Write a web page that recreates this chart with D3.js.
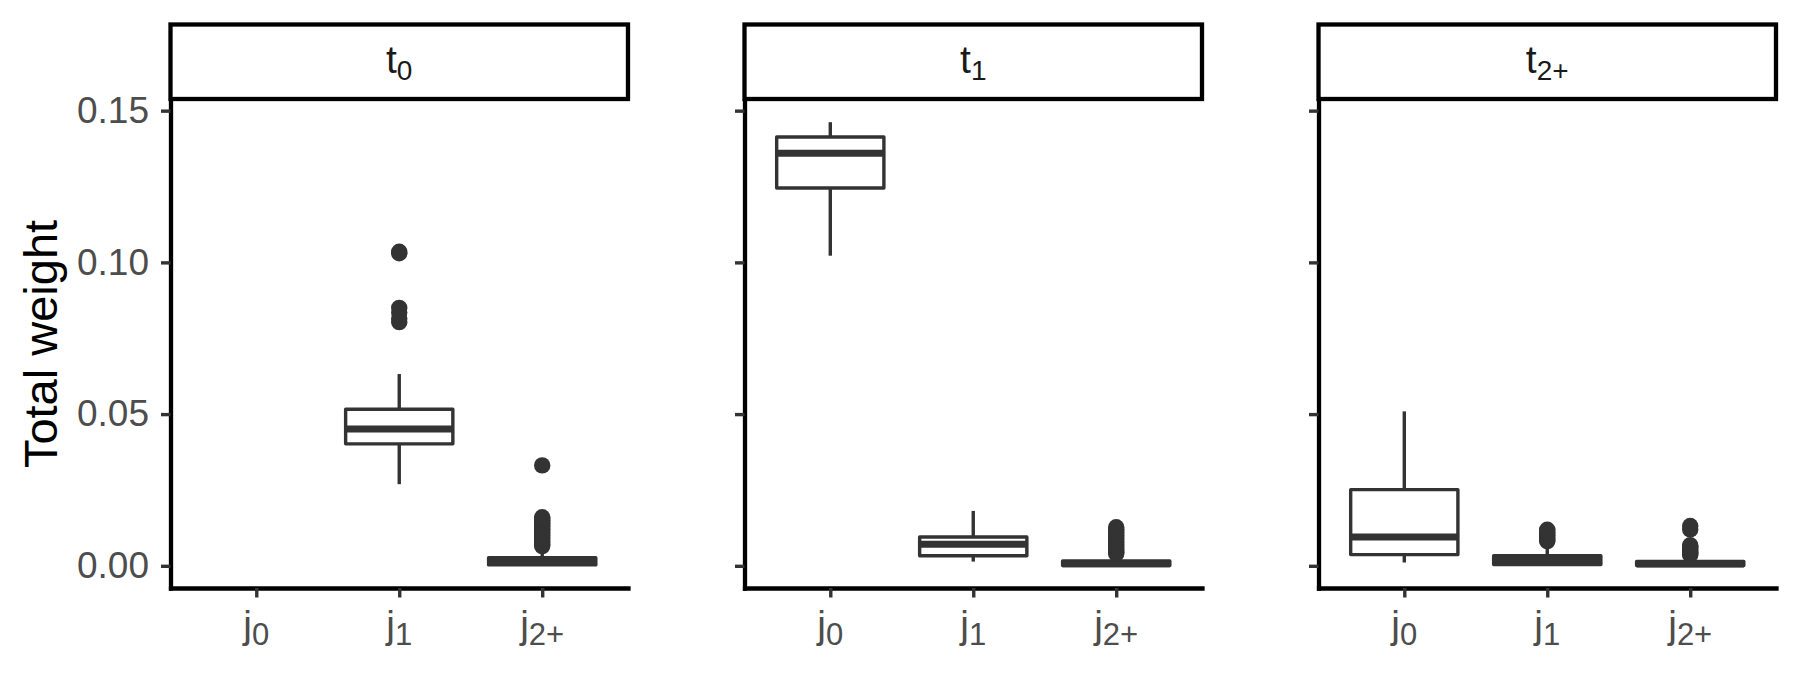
<!DOCTYPE html>
<html><head><meta charset="utf-8">
<script src="https://cdn.jsdelivr.net/npm/d3@7"></script>
<style>
body{margin:0;background:#fff}
svg{display:block}
text{font-family:"Liberation Sans",Arial,sans-serif}
</style>
</head><body>
<svg id="chart" width="1800" height="675"></svg>
<script>
// ---- data ----
const facetNames = ["t0", "t1", "t2+"];
const facetSubs = ["0", "1", "2+"];
const categories = ["j0", "j1", "j2+"];
const categorySubs = ["0", "1", "2+"];
const yTicks = [0, 0.05, 0.10, 0.15];
const yTitle = "Total weight";

// per facet: [j0, j1, j2+]; null = no data
const lowerWhisker = [[null, 0.0269, 0.0000], [0.1022, 0.0014, 0.0000], [0.0011, 0.0001, 0.0000]];
const q1Values     = [[null, 0.0402, 0.0003], [0.1245, 0.0033, 0.0001], [0.0037, 0.0004, 0.0001]];
const medianValues = [[null, 0.0451, 0.0013], [0.1360, 0.0071, 0.0007], [0.0095, 0.0018, 0.0006]];
const q3Values     = [[null, 0.0516, 0.0027], [0.1413, 0.0095, 0.0016], [0.0251, 0.0033, 0.0014]];
const upperWhisker = [[null, 0.0632, 0.0062], [0.1462, 0.0181, 0.0038], [0.0509, 0.0056, 0.0035]];
const outlierValues = [
  [[], [0.1035, 0.1030, 0.0850, 0.0835, 0.0815, 0.0803],
       [0.0065, 0.0070, 0.0075, 0.0080, 0.0085, 0.0090, 0.0095, 0.0100, 0.0105, 0.0110,
        0.0115, 0.0120, 0.0125, 0.0130, 0.0135, 0.0140, 0.0145, 0.0150, 0.0155, 0.0160, 0.0331]],
  [[], [],
       [0.0040, 0.0045, 0.0050, 0.0055, 0.0060, 0.0065, 0.0070, 0.0075, 0.0080, 0.0085,
        0.0090, 0.0095, 0.0100, 0.0105, 0.0110, 0.0115, 0.0120, 0.0127]],
  [[], [0.0081, 0.0085, 0.0090, 0.0095, 0.0100, 0.0105, 0.0110, 0.0115, 0.0119],
       [0.0036, 0.0040, 0.0045, 0.0050, 0.0055, 0.0060, 0.0064, 0.0068, 0.0120, 0.0131]]
];

// ---- layout ----
const svg = d3.select("#chart");
const panelTop = 100, panelBottom = 588;
const stripTop = 24.5;
const ink = "#333333";

const allVals = [];
facetNames.forEach((f, i) => categories.forEach((c, j) => {
  [lowerWhisker, q1Values, medianValues, q3Values, upperWhisker].forEach(a => { if (a[i][j] !== null) allVals.push(a[i][j]); });
  outlierValues[i][j].forEach(v => allVals.push(v));
}));
const [vmin, vmax] = d3.extent(allVals);
const pad = (vmax - vmin) * 0.05;
const y = d3.scaleLinear().domain([vmin - pad, vmax + pad]).range([panelBottom, panelTop]);

const fx = d3.scaleBand().domain(facetNames).range([170.5, 1776]).paddingInner(0.203);

facetNames.forEach((f, i) => {
  const left = fx(f), w = fx.bandwidth();
  const x = d3.scalePoint().domain(categories).range([left, left + w]).padding(0.6);
  const bw = x.step() * 0.75;
  const g = svg.append("g");

  // strip
  g.append("rect").attr("x", left).attr("y", stripTop).attr("width", w).attr("height", panelTop - stripTop - 1)
    .attr("fill", "#fff").attr("stroke", "#000").attr("stroke-width", 4.3);
  const st = g.append("text").attr("x", left + w / 2).attr("y", 72.5).attr("text-anchor", "middle").attr("fill", "#1a1a1a");
  st.append("tspan").attr("font-size", 39).text("t");
  st.append("tspan").attr("font-size", 28).attr("dy", 7).text(facetSubs[i]);

  // boxes
  categories.forEach((c, j) => {
    const cx = x(c);
    outlierValues[i][j].forEach(v => {
      g.append("circle").attr("cx", cx).attr("cy", y(v)).attr("r", 8.2).attr("fill", ink);
    });
    if (q1Values[i][j] === null) return;
    g.append("line").attr("x1", cx).attr("x2", cx).attr("y1", y(upperWhisker[i][j])).attr("y2", y(q3Values[i][j]))
      .attr("stroke", ink).attr("stroke-width", 3.4);
    g.append("line").attr("x1", cx).attr("x2", cx).attr("y1", y(q1Values[i][j])).attr("y2", y(lowerWhisker[i][j]))
      .attr("stroke", ink).attr("stroke-width", 3.4);
    g.append("rect").attr("x", cx - bw / 2).attr("width", bw)
      .attr("y", y(q3Values[i][j])).attr("height", y(q1Values[i][j]) - y(q3Values[i][j]))
      .attr("fill", "#fff").attr("stroke", ink).attr("stroke-width", 3.4).attr("stroke-linejoin", "round");
    g.append("line").attr("x1", cx - bw / 2).attr("x2", cx + bw / 2)
      .attr("y1", y(medianValues[i][j])).attr("y2", y(medianValues[i][j]))
      .attr("stroke", ink).attr("stroke-width", 7);
  });

  // y axis
  const ya = d3.axisLeft(y).tickValues(yTicks).tickSize(9.5).tickSizeOuter(0).tickPadding(12)
    .tickFormat(i === 0 ? d3.format(".2f") : () => "");
  const yg = g.append("g").attr("transform", `translate(${left},0)`).call(ya);
  yg.select(".domain").attr("stroke", "#000").attr("stroke-width", 4.3).attr("stroke-linecap", "square");
  yg.selectAll(".tick line").attr("stroke", ink).attr("stroke-width", 3.4);
  yg.selectAll(".tick text").attr("font-size", 37).attr("fill", "#4d4d4d")
    .attr("font-family", "'Liberation Sans', Arial, sans-serif");

  // x axis
  const xa = d3.axisBottom(x).tickSize(9.5).tickSizeOuter(0).tickFormat(() => "");
  const xg = g.append("g").attr("transform", `translate(0,${panelBottom})`).call(xa);
  xg.select(".domain").attr("stroke", "#000").attr("stroke-width", 4.3).attr("stroke-linecap", "square");
  xg.selectAll(".tick line").attr("stroke", ink).attr("stroke-width", 3.4);
  categories.forEach((c, j) => {
    const t = g.append("text").attr("x", x(c)).attr("y", 637.5).attr("text-anchor", "middle").attr("fill", "#4d4d4d");
    t.append("tspan").attr("font-size", 39).text("j");
    t.append("tspan").attr("font-size", 31).attr("dy", 7).text(categorySubs[j]);
  });
});

// y title
svg.append("text").attr("transform", `translate(57,${(panelTop + panelBottom) / 2}) rotate(-90)`)
  .attr("text-anchor", "middle").attr("font-size", 47).attr("fill", "#000").text(yTitle);
</script>
</body></html>
